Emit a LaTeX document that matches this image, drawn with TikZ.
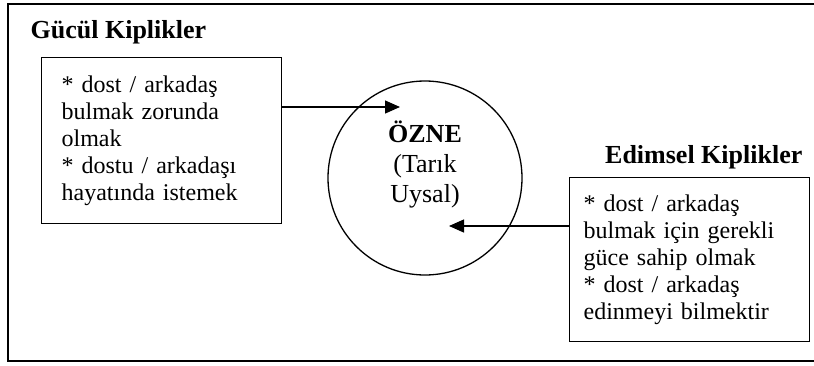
\documentclass[tikz,border=0pt]{standalone}
\usepackage{fontspec}
\setmainfont{Liberation Serif}
\usetikzlibrary{arrows.meta}

\begin{document}
\begin{tikzpicture}[
    x=1pt,y=-1pt,
    box/.style={rectangle,draw,line width=1.3pt,minimum width=240pt,
                minimum height=#1,align=left,
                font=\fontsize{24}{27}\selectfont},
    head/.style={inner sep=0pt,font=\bfseries\fontsize{26}{30}\selectfont},
    >={Triangle[length=15pt,width=13pt]},line width=1.3pt
  ]
    \useasboundingbox (0,0) rectangle (814,365);
    \draw[line width=2.4pt] (814,4) -- (8,4) -- (8,361) -- (814,361);
    % left side
    \node[head,anchor=base west] (GT) at (30,38) {Gücül Kiplikler};
    \node[box=166pt,text width=200pt,inner xsep=20pt,anchor=north west] (G) at (41,57)
      {* dost / arkadaş\\bulmak zorunda\\olmak\\{}* dostu / arkadaşı\\hayatında istemek};
    % subject
    \node[circle,draw,minimum size=194pt,inner sep=0pt] (O) at (425,178) {};
    \node[align=center,inner sep=0pt,font=\fontsize{26}{30}\selectfont] (OT)
      at ([yshift=14pt]O.center) {{\bfseries ÖZNE}\\(Tarık\\Uysal)};
    % right side
    \node[head,anchor=base east] (ET) at (803,163) {Edimsel Kiplikler};
    \node[box=164pt,text width=212pt,inner xsep=14pt,anchor=north west] (E) at (569,177)
      {* dost / arkadaş\\bulmak için gerekli\\güce sahip olmak\\{}* dost / arkadaş\\edinmeyi bilmektir};
    \coordinate (g1) at (400,107);
    \coordinate (e1) at (449,226);
    \draw[->] (G.east |- g1) -- (g1);
    \draw[->] (E.west |- e1) -- (e1);
  \end{tikzpicture}
\end{document}
